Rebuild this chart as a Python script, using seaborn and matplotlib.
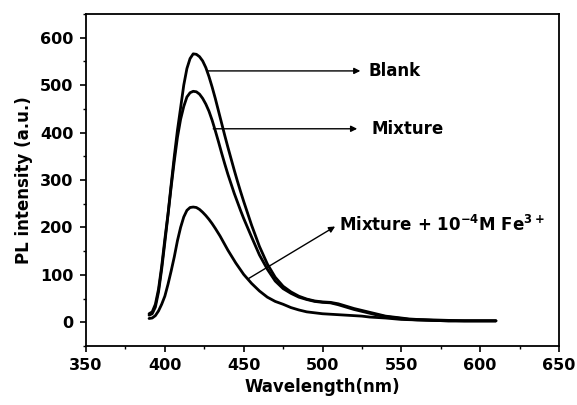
import numpy as np
import pandas as pd
import matplotlib
matplotlib.use("Agg")
import matplotlib.pyplot as plt
import seaborn as sns
from matplotlib.ticker import MultipleLocator

# ---- data ----
wl_blank = [390, 392, 394, 396, 398, 400, 402, 404, 406, 408, 410, 412, 414, 416, 418, 420, 422, 424, 426,
            428, 430, 432, 434, 436, 438, 440, 442, 444, 446, 448, 450, 455, 460, 465, 470, 475, 480, 485,
            490, 495, 500, 505, 510, 515, 520, 525, 530, 535, 540, 545, 550, 555, 560, 570, 580, 590, 600, 610]
blank = [18, 22, 38, 70, 118, 175, 228, 290, 350, 405, 452, 500, 535, 556, 566, 565, 560, 551, 537,
         518, 496, 472, 446, 420, 394, 369, 345, 321, 298, 276, 255, 205, 160, 123, 95, 76, 64, 55,
         49, 45, 43, 42, 39, 34, 29, 25, 21, 17, 13, 11, 9, 7, 6, 5, 4, 3, 3, 3]

wl_mix = wl_blank
mixture = [15, 18, 32, 64, 112, 168, 226, 285, 340, 390, 428, 455, 475, 484, 487, 486, 481, 472, 460,
           445, 426, 404, 381, 357, 334, 312, 292, 272, 254, 236, 219, 180, 142, 112, 87, 71, 61, 53,
           48, 44, 42, 41, 37, 32, 27, 23, 19, 15, 12, 10, 8, 6, 5, 4, 3, 3, 3, 3]

wl_fe = [390, 392, 394, 396, 398, 400, 402, 404, 406, 408, 410, 412, 414, 416, 418, 420, 422, 424, 426,
         428, 430, 432, 435, 440, 445, 450, 455, 460, 465, 470, 475, 480, 485, 490, 495, 500, 505, 510,
         515, 520, 525, 530, 540, 550, 560, 570, 580, 590, 600, 610]
fe = [8, 9, 14, 24, 38, 55, 80, 108, 138, 172, 200, 222, 236, 242, 243, 242, 238, 232, 225,
      217, 208, 198, 182, 152, 125, 101, 82, 66, 53, 44, 38, 31, 26, 22, 20, 18, 17, 16,
      15, 14, 13, 11, 9, 6, 5, 4, 3, 3, 3, 3]

x_ticks = [350, 400, 450, 500, 550, 600, 650]
y_ticks = [0, 100, 200, 300, 400, 500, 600]

# ---- style ----
sns.set_theme(style="ticks")
plt.rcParams["font.family"] = ["DejaVu Sans"]
plt.rcParams["font.weight"] = "bold"
plt.rcParams["text.color"] = "black"
plt.rcParams["axes.labelcolor"] = "black"
plt.rcParams["xtick.color"] = "black"
plt.rcParams["ytick.color"] = "black"
plt.rcParams["xtick.labelcolor"] = "black"
plt.rcParams["ytick.labelcolor"] = "black"
plt.rcParams["mathtext.fontset"] = "custom"
plt.rcParams["mathtext.rm"] = "DejaVu Sans:bold"
plt.rcParams["mathtext.bf"] = "DejaVu Sans:bold"
plt.rcParams["mathtext.it"] = "DejaVu Sans:bold"
plt.rcParams["mathtext.default"] = "bf"

fig = plt.figure(figsize=(5.77, 4.05), dpi=100)
ax = fig.add_axes([86 / 577, 1 - 346 / 405, (559 - 86) / 577, (346 - 14) / 405])

for xs, ys in [(wl_blank, blank), (wl_mix, mixture), (wl_fe, fe)]:
    df = pd.DataFrame({"x": xs, "y": ys})
    sns.lineplot(data=df, x="x", y="y", ax=ax, color="black", linewidth=2.0, sort=False)

ax.set_xlim(350, 650)
ax.set_ylim(-50, 650)
ax.set_xticks(x_ticks)
ax.set_yticks(y_ticks)
ax.xaxis.set_minor_locator(MultipleLocator(25))
ax.yaxis.set_minor_locator(MultipleLocator(50))
ax.tick_params(which="major", direction="out", length=4, width=1.2, labelsize=11.5, pad=5,
               colors="black", labelcolor="black")
ax.tick_params(which="minor", direction="out", length=2.5, width=1.0, colors="black")
for lab in ax.get_xticklabels() + ax.get_yticklabels():
    lab.set_fontweight("bold")
    lab.set_color("black")
for sp in ax.spines.values():
    sp.set_visible(True)
    sp.set_linewidth(1.3)
    sp.set_color("black")

ax.set_xlabel("Wavelength(nm)", fontsize=12, fontweight="bold", labelpad=3, color="black")
ax.set_ylabel("PL intensity (a.u.)", fontsize=12, fontweight="bold", labelpad=5, color="black")

arrow_kw = dict(arrowstyle="-|>", lw=1.0, color="black", mutation_scale=9, shrinkA=0, shrinkB=0)
ax.annotate("", xy=(524, 530), xytext=(426.5, 530), arrowprops=arrow_kw)
ax.text(529, 530, "Blank", fontsize=12, fontweight="bold", va="center", ha="left", color="black")
ax.annotate("", xy=(522, 408), xytext=(430.7, 408), arrowprops=arrow_kw)
ax.text(531, 408, "Mixture", fontsize=12, fontweight="bold", va="center", ha="left", color="black")
ax.annotate("", xy=(508, 202), xytext=(453, 92), arrowprops=arrow_kw)
ax.text(510.7, 206, r"Mixture + 10$^{-4}$M Fe$^{3+}$", fontsize=12, fontweight="bold",
        va="center", ha="left", color="black")

fig.savefig("out.png", dpi=100)
